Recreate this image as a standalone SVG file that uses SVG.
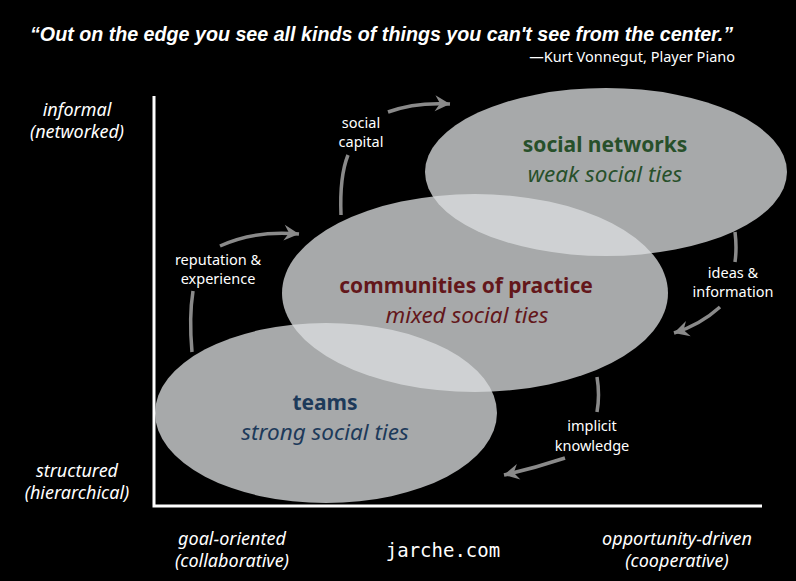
<svg xmlns="http://www.w3.org/2000/svg" width="796" height="581" viewBox="0 0 796 581">
<defs>
<style>
.bg{fill:#000}
.ell{fill:#dcdee0;fill-opacity:0.76}
.axis{stroke:#fff;stroke-width:3;fill:none}
.conn{stroke:#8a8a8a;stroke-width:3.5;fill:none}
.lab{font-family:"Noto Sans","Open Sans",sans-serif;font-size:14.5px;fill:#fff;text-anchor:middle}
.ax{font-family:"Noto Sans","Open Sans",sans-serif;font-size:18px;font-style:italic;fill:#fff;text-anchor:middle}
.nb{font-family:"Noto Sans","Open Sans",sans-serif;font-size:21px;font-weight:bold;text-anchor:middle}
.ni{font-family:"Noto Sans","Open Sans",sans-serif;font-size:22.5px;font-style:italic;text-anchor:middle}
.green{fill:#27502a}
.red{fill:#63171b}
.blue{fill:#1d3a5a}
</style>
<marker id="ah" viewBox="-16 -9 17 18" markerWidth="17" markerHeight="18" refX="0" refY="0" orient="auto" markerUnits="userSpaceOnUse">
<path d="M0,0 L-15,-8 L-10,0 L-15,8 Z" fill="#8a8a8a"/>
</marker>
</defs>
<rect class="bg" x="0" y="0" width="796" height="581"/>

<g id="title">
<text x="30" y="41" font-family="'Liberation Sans',Arial,sans-serif" font-size="20" font-weight="bold" font-style="italic" fill="#fff" textLength="703" lengthAdjust="spacingAndGlyphs">“Out on the edge you see all kinds of things you can't see from the center.”</text>
<text x="735" y="62" font-family="'Noto Sans','Open Sans',sans-serif" font-size="14.5" fill="#fff" text-anchor="end">—Kurt Vonnegut, Player Piano</text>
</g>

<g id="axes">
<path class="axis" d="M154,96 L154,506 L762,506"/>
<text class="ax" x="77" y="116">informal</text>
<text class="ax" x="77" y="138">(networked)</text>
<text class="ax" x="77" y="477">structured</text>
<text class="ax" x="77" y="499">(hierarchical)</text>
<text class="ax" x="232" y="545">goal-oriented</text>
<text class="ax" x="232" y="567">(collaborative)</text>
<text class="ax" x="677" y="545">opportunity-driven</text>
<text class="ax" x="677" y="567">(cooperative)</text>
<text x="443" y="557" font-family="'DejaVu Sans Mono','Liberation Mono',monospace" font-size="19" fill="#fff" text-anchor="middle">jarche.com</text>
</g>

<g id="node-social-networks">
<ellipse class="ell" cx="606" cy="172" rx="181" ry="84"/>
</g>
<g id="node-communities">
<ellipse class="ell" cx="475" cy="293" rx="193" ry="99"/>
</g>
<g id="node-teams">
<ellipse class="ell" cx="326" cy="413" rx="171" ry="90"/>
</g>

<g id="labels-nodes">
<text class="nb green" x="605" y="152">social networks</text>
<text class="ni green" x="605" y="182">weak social ties</text>
<text class="nb red" x="466" y="293">communities of practice</text>
<text class="ni red" x="467" y="323">mixed social ties</text>
<text class="nb blue" x="325" y="410">teams</text>
<text class="ni blue" x="325" y="440">strong social ties</text>
</g>

<g id="connectors">
<path class="conn" d="M192,352 C190,330 190,310 193,291"/>
<path class="conn" d="M220,246 Q255,230 299,234" marker-end="url(#ah)"/>
<path class="conn" d="M341,215 C340,190 342,170 348,155"/>
<path class="conn" d="M388,112 Q415,102 450,104" marker-end="url(#ah)"/>
<path class="conn" d="M735,232 Q737,248 735,262"/>
<path class="conn" d="M720,307 Q700,325 674,333" marker-end="url(#ah)"/>
<path class="conn" d="M597,377 Q600,395 597,412"/>
<path class="conn" d="M565,458 Q535,468 504,475" marker-end="url(#ah)"/>
<text class="lab" x="218" y="265">reputation &amp;</text>
<text class="lab" x="218" y="284">experience</text>
<text class="lab" x="361" y="128">social</text>
<text class="lab" x="361" y="147">capital</text>
<text class="lab" x="733" y="278">ideas &amp;</text>
<text class="lab" x="733" y="297">information</text>
<text class="lab" x="592" y="431">implicit</text>
<text class="lab" x="592" y="451">knowledge</text>
</g>
</svg>
